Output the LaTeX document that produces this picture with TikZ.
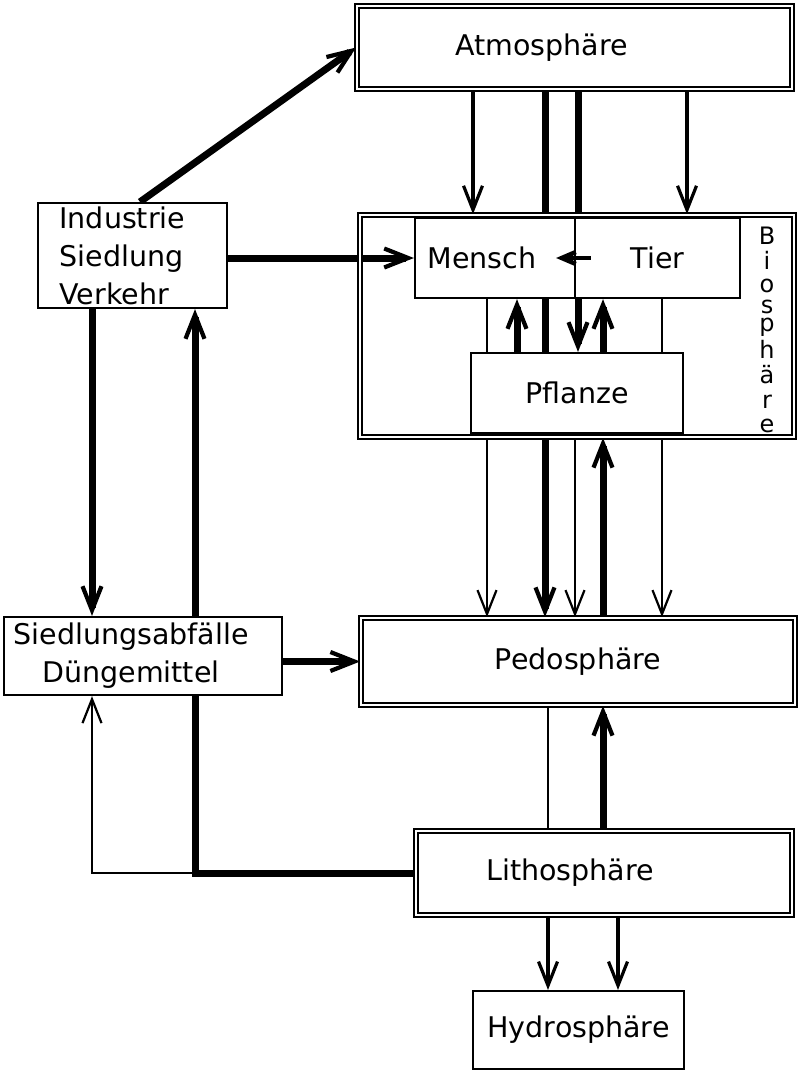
\documentclass[tikz,border=0pt]{standalone}
\usepackage{fontspec}
\setmainfont{DejaVu Sans}
\usetikzlibrary{arrows.meta,backgrounds}

\tikzset{
  box/.style={draw, line width=2.2pt, fill=white, inner sep=0pt},
  sphere/.style={draw, double, double distance=2.4pt, line width=1.8pt, fill=white, inner sep=0pt},
  flowthin/.style={line width=2pt},
  flowmid/.style={line width=4.5pt},
  flowheavy/.style={line width=7pt}
}

\begin{document}
\begin{tikzpicture}[x=1pt, y=-1pt, >={Straight Barb[length=24pt,width=19pt,line width=1.4pt 0.4]},
    every node/.style={font=\fontsize{28.5}{38}\selectfont}]
    \useasboundingbox (0,0) rectangle (800,1072);
    % spheres and boxes
    \node[sphere, minimum width=435pt, minimum height=83pt, label={[name=atmotxt, xshift=-33pt]center:Atmosphäre}] (atmo) at (574.5,47.5) {};
    \node[sphere, fill=none, minimum width=434pt, minimum height=222pt] (bio) at (577,326) {};
    \node[box, minimum width=160pt, minimum height=80pt, label={[name=menschtxt, xshift=-13pt]center:Mensch}] (mensch) at (495,258) {};
    \node[box, minimum width=165pt, minimum height=80pt] (tier) at (657.5,258) {Tier};
    \node[box, minimum width=212pt, minimum height=80pt] (pflanze) at (577,393) {Pflanze};
    \foreach \l/\y [count=\k] in {B/244, i/269, o/292, s/313, p/331, h/358, ä/383, r/408, e/432}
      \node[anchor=base, inner sep=0pt, font=\fontsize{24}{24}\selectfont] (bio\k) at (767,\y) {\l};
    \node[sphere, minimum width=434pt, minimum height=87pt] (pedo) at (578,661.5) {Pedosphäre};
    \node[sphere, minimum width=376pt, minimum height=84pt, label={[name=lithotxt, xshift=-34pt]center:Lithosphäre}] (litho) at (604,873) {};
    \node[box, minimum width=211pt, minimum height=78pt] (hydro) at (578.5,1030) {Hydrosphäre};
    \node[box, minimum width=189pt, minimum height=105pt, text width=146pt, align=left] (ind) at (132.5,255.5) {Industrie\\Siedlung\\Verkehr};
    \node[box, minimum width=278pt, minimum height=78pt, label={[name=siedltxt, xshift=-12pt, align=center]center:Siedlungsabfälle\\Düngemittel}] (siedl) at (143,656) {};

    % columns of the vertical flows
    \foreach \c in {92,140,195,473,487,517,545,548,575,578,603,618,662,687}
      \coordinate (c\c) at (\c,0);

    \begin{scope}[on background layer]
      \draw[flowmid,->] (atmo.south -| c473) -- (bio.north -| c473);
      \draw[flowmid,->] (atmo.south -| c687) -- (bio.north -| c687);
      \draw[flowheavy,->] (atmo.south -| c545) -- (pedo.north -| c545);
      \draw[flowheavy,->] (atmo.south -| c578) -- (pflanze.north -| c578);
      \draw[flowheavy,->] (pflanze.north -| c517) -- (mensch.south -| c517);
      \draw[flowheavy,->] (pflanze.north -| c603) -- (tier.south -| c603);
      \draw[flowthin,->] (mensch.south -| c487) -- (pedo.north -| c487);
      \draw[flowthin,->] (tier.south -| c662) -- (pedo.north -| c662);
      \draw[flowthin,->] (bio.south -| c575) -- (pedo.north -| c575);
      \draw[flowheavy,->] (pedo.north -| c603) -- (bio.south -| c603);
      \draw[flowthin] (pedo.south -| c548) -- (litho.north -| c548);
      \draw[flowheavy,->] (litho.north -| c603) -- (pedo.south -| c603);
      \draw[flowmid,->] (litho.south -| c548) -- (hydro.north -| c548);
      \draw[flowmid,->] (litho.south -| c618) -- (hydro.north -| c618);
      % left side
      \draw[flowheavy,->] (ind.north -| c140) -- (atmo.west);
      \draw[flowheavy,->] (ind.east |- mensch.west) -- (mensch.west);
      \draw[flowheavy,->] (ind.south -| c92) -- (siedl.north -| c92);
      \draw[flowheavy,->] (litho.west) -| (ind.south -| c195);
      \draw[flowthin,->] (litho.west -| c195) -| (siedl.south -| c92);
      \draw[flowheavy,->] (siedl.east |- pedo.west) -- (pedo.west);
    \end{scope}
    \draw[flowmid,-{Straight Barb[length=14pt,width=12pt]}] ([xshift=17pt]tier.west) -- ([xshift=-20pt]mensch.east);
\end{tikzpicture}
\end{document}
